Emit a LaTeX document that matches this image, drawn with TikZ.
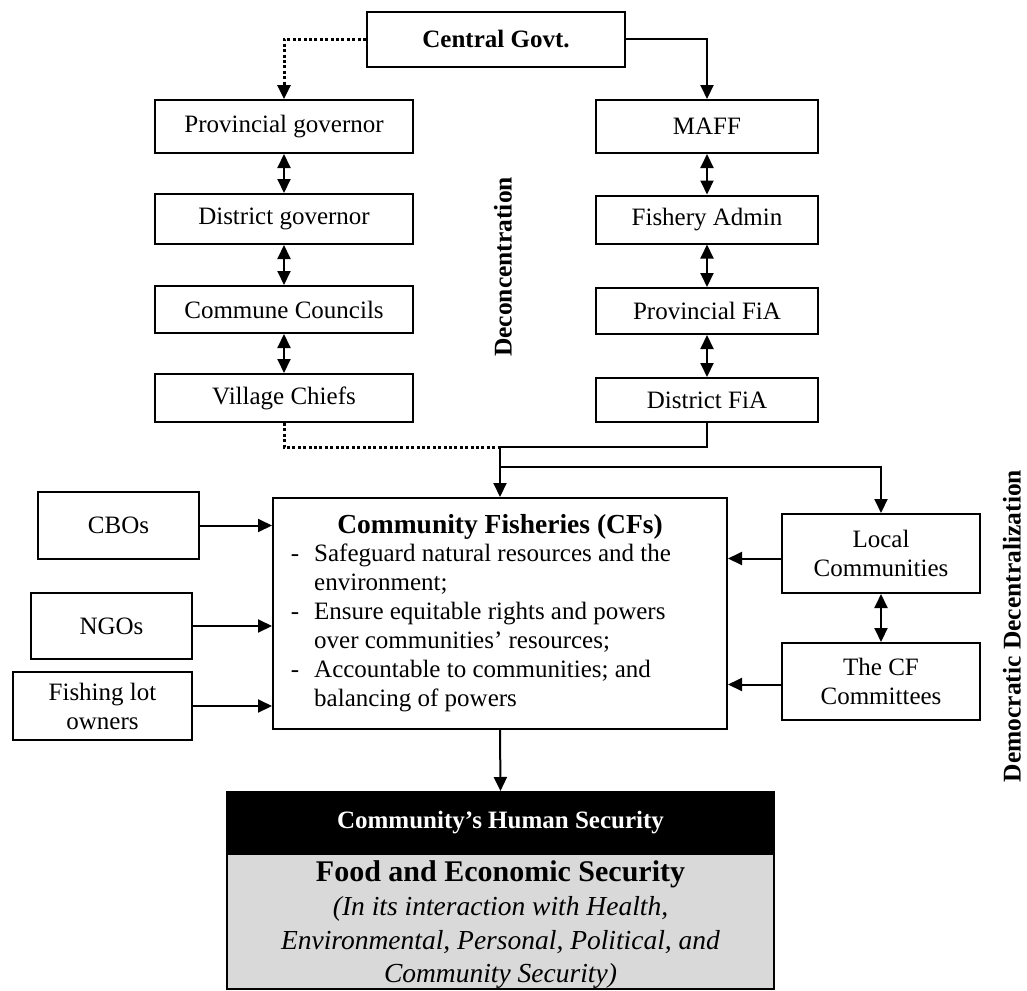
\documentclass[tikz,border=0pt]{standalone}
\usepackage{fontspec}
\setmainfont{Liberation Serif}
\usetikzlibrary{arrows.meta}
\newcommand\myfs[2]{\fontsize{#1}{#2}\selectfont}
\tikzset{
  >={Triangle[length=14pt,width=13pt]},
  box/.style={draw, line width=2pt, inner sep=0pt, align=center, font=\myfs{25}{29}},
  conn/.style={line width=2pt},
  dotline/.style={line width=3pt, dash pattern=on 3pt off 2.4pt},
  dbl/.style={line width=2pt, <->},
  txt/.style={inner sep=0pt, font=\myfs{25}{29}},
  lbl/.style={rotate=90, inner sep=0pt, font=\bfseries\myfs{25.5}{30}},
}
\begin{document}
\begin{tikzpicture}[x=1pt,y=-1pt]
\useasboundingbox (0,0) rectangle (1027,990);

% top
\node[box, minimum width=258pt, minimum height=55pt, font=\bfseries\myfs{25}{29}] (cg) at (496,39.5) {Central Govt.};

% left column
\node[box, minimum width=258pt, minimum height=53pt] (pg) at (284,126.5) {Provincial governor};
\node[box, minimum width=258pt, minimum height=50pt] (dg) at (284,219) {District governor};
\node[box, minimum width=258pt, minimum height=47pt] (cc) at (284,309.5) {Commune Councils};
\node[box, minimum width=258pt, minimum height=48pt] (vc) at (284,398) {Village Chiefs};

% right column
\node[box, minimum width=222pt, minimum height=53pt] (maff) at (707,126.5) {MAFF};
\node[box, minimum width=222pt, minimum height=48pt] (fa) at (707,219.5) {Fishery Admin};
\node[box, minimum width=222pt, minimum height=46pt] (pfia) at (707,311) {Provincial FiA};
\node[box, minimum width=222pt, minimum height=44pt] (dfia) at (707,400) {District FiA};

% labels
\node[lbl] (dec) at (503,267) {Deconcentration};
\node[lbl] (ddec) at (1012,626) {Democratic Decentralization};

% community fisheries
\node[box, minimum width=454pt, minimum height=231pt] (cf) at (500,613.5) {};
\node[txt, anchor=base, font=\bfseries\myfs{27.5}{30}] (cft) at (500,533) {Community Fisheries (CFs)};
\node[txt, anchor=base] (d1) at (295,561) {-};
\node[txt, anchor=base west] (l1) at (314,561) {Safeguard natural resources and the};
\node[txt, anchor=base west] (l2) at (314,590) {environment;};
\node[txt, anchor=base] (d2) at (295,619.5) {-};
\node[txt, anchor=base west] (l3) at (314,619.5) {Ensure equitable rights and powers};
\node[txt, anchor=base west] (l4) at (314,648.5) {over communities’ resources;};
\node[txt, anchor=base] (d3) at (295,677.5) {-};
\node[txt, anchor=base west] (l5) at (314,677.5) {Accountable to communities; and};
\node[txt, anchor=base west] (l6) at (314,706.5) {balancing of powers};

% left side actors
\node[box, minimum width=161pt, minimum height=67pt] (cbo) at (118.5,525.5) {CBOs};
\node[box, minimum width=161pt, minimum height=66pt] (ngo) at (111.5,626) {NGOs};
\node[box, minimum width=179pt, minimum height=68pt] (flo) at (102.5,706) {Fishing lot\\owners};

% right side actors
\node[box, minimum width=198pt, minimum height=79pt] (lc) at (881,553.5) {Local\\Communities};
\node[box, minimum width=198pt, minimum height=77pt] (cfc) at (881,681.5) {The CF\\Committees};

% human security
\node[box, fill=black, text=white, minimum width=547pt, minimum height=62pt, font=\bfseries\myfs{25}{28}] (hs) at (500.5,823) {Community’s Human Security};
\node[box, fill=black!15, minimum width=547pt, minimum height=135pt] (fes) at (500.5,921.5) {};
\node[txt, anchor=base, font=\bfseries\myfs{30}{34}] (fest) at (500.5,881) {Food and Economic Security};
\node[txt, anchor=base, font=\itshape\myfs{27.5}{32}] (i1) at (500.5,915) {(In its interaction with Health,};
\node[txt, anchor=base, font=\itshape\myfs{27.5}{32}] (i2) at (500.5,949) {Environmental, Personal, Political, and};
\node[txt, anchor=base, font=\itshape\myfs{27.5}{32}] (i3) at (500.5,982) {Community Security)};

% connectors from central govt
\draw[dotline, ->] (cg.west) -| (pg.north);
\draw[conn, ->] (cg.east) -| (maff.north);

% column arrows
\draw[dbl] (pg.south) -- (dg.north);
\draw[dbl] (dg.south) -- (cc.north);
\draw[dbl] (cc.south) -- (vc.north);
\draw[dbl] (maff.south) -- (fa.north);
\draw[dbl] (fa.south) -- (pfia.north);
\draw[dbl] (pfia.south) -- (dfia.north);

% junction
\coordinate (j) at (500,447);
\coordinate (j2) at (500,467);
\draw[dotline] (vc.south) |- (j);
\draw[conn] (dfia.south) |- (j);
\draw[conn, ->] (j) -- (cf.north);
\draw[conn, ->] (j2) -| (lc.north);

% side arrows
\draw[conn, ->] (cbo.east) -- (cbo.east -| cf.west);
\draw[conn, ->] (ngo.east) -- (ngo.east -| cf.west);
\draw[conn, ->] (flo.east) -- (flo.east -| cf.west);
\draw[conn, ->] ([yshift=-5pt]lc.west) -- ([yshift=-5pt]lc.west -| cf.east);
\draw[conn, ->] ([yshift=-3pt]cfc.west) -- ([yshift=-3pt]cfc.west -| cf.east);
\draw[dbl] (lc.south) -- (cfc.north);

% to human security
\draw[conn, ->] (cf.south) -- (hs.north);
\end{tikzpicture}
\end{document}
